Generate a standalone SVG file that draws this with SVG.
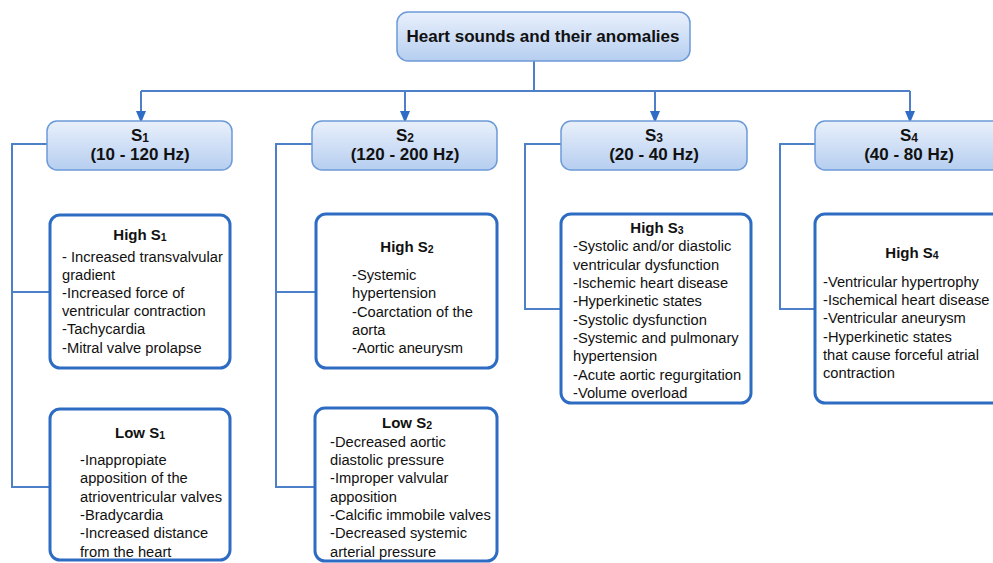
<svg xmlns="http://www.w3.org/2000/svg" width="993" height="563" viewBox="0 0 993 563">
<defs>
<linearGradient id="hdr" x1="0" y1="0" x2="0" y2="1">
<stop offset="0" stop-color="#e9f0fb"/>
<stop offset="1" stop-color="#b6cef0"/>
</linearGradient>
<marker id="arr" markerWidth="12" markerHeight="10" refX="11" refY="5" orient="auto" markerUnits="userSpaceOnUse">
<path d="M0,0 L12,5 L0,10 z" fill="#2f6cc6"/>
</marker>
</defs>
<style>
.hdr{fill:url(#hdr);stroke:#6c9ad8;stroke-width:1.5}
.box{fill:#fff;stroke:#2e6cc4;stroke-width:3}
.con{fill:none;stroke:#4d80c9;stroke-width:2}
.t{font-family:"Liberation Sans",Arial,sans-serif;fill:#111}
.ht{font-size:17px;font-weight:bold;text-anchor:middle}
.bt{font-size:15px;font-weight:bold;text-anchor:middle}
.tx{font-size:14.7px}
</style>
<rect width="993" height="563" fill="#fff"/>
<g id="connectors">
<path class="con" d="M534,61 V91 M141,91 H910"/>
<path class="con" d="M141,91 V122" marker-end="url(#arr)"/>
<path class="con" d="M405,91 V122" marker-end="url(#arr)"/>
<path class="con" d="M655,91 V122" marker-end="url(#arr)"/>
<path class="con" d="M910,91 V122" marker-end="url(#arr)"/>
<path class="con" d="M47,144 H12 V487 H50 M12,292 H50"/>
<path class="con" d="M312,144 H276 V487 H315 M276,292 H316"/>
<path class="con" d="M561,144 H525 V309 H561"/>
<path class="con" d="M815,144 H780 V309 H815"/>
</g>
<g id="root">
<rect class="hdr" x="397" y="12" width="293" height="49" rx="11"/>
<text class="t ht" x="543" y="42">Heart sounds and their anomalies</text>
</g>
<g id="s1">
<rect class="hdr" x="47" y="121" width="185" height="49" rx="10"/>
<text class="t ht" x="140" y="141">S<tspan font-size="12" dy="1">1</tspan></text>
<text class="t ht" x="140" y="160">(10 - 120 Hz)</text>
</g>
<g id="s2">
<rect class="hdr" x="312" y="121" width="185" height="49" rx="10"/>
<text class="t ht" x="405" y="141">S<tspan font-size="12" dy="1">2</tspan></text>
<text class="t ht" x="405" y="160">(120 - 200 Hz)</text>
</g>
<g id="s3">
<rect class="hdr" x="561" y="121" width="186" height="49" rx="10"/>
<text class="t ht" x="654" y="141">S<tspan font-size="12" dy="1">3</tspan></text>
<text class="t ht" x="654" y="160">(20 - 40 Hz)</text>
</g>
<g id="s4">
<rect class="hdr" x="815" y="121" width="190" height="49" rx="10"/>
<text class="t ht" x="909" y="141">S<tspan font-size="12" dy="1">4</tspan></text>
<text class="t ht" x="909" y="160">(40 - 80 Hz)</text>
</g>
<g id="high-s1">
<rect class="box" x="50" y="215" width="180" height="153" rx="10"/>
<text class="t bt" x="140" y="240">High S<tspan font-size="10.5" dy="1">1</tspan></text>
<text class="t tx" x="62" y="262">- Increased transvalvular</text>
<text class="t tx" x="62" y="280">gradient</text>
<text class="t tx" x="62" y="298">-Increased force of</text>
<text class="t tx" x="62" y="316">ventricular contraction</text>
<text class="t tx" x="62" y="334">-Tachycardia</text>
<text class="t tx" x="62" y="353">-Mitral valve prolapse</text>
</g>
<g id="low-s1">
<rect class="box" x="50" y="409" width="180" height="151" rx="10"/>
<text class="t bt" x="140" y="438">Low S<tspan font-size="10.5" dy="1">1</tspan></text>
<text class="t tx" x="80" y="465">-Inappropiate</text>
<text class="t tx" x="80" y="483">apposition of the</text>
<text class="t tx" x="80" y="502">atrioventricular valves</text>
<text class="t tx" x="80" y="520">-Bradycardia</text>
<text class="t tx" x="80" y="538">-Increased distance</text>
<text class="t tx" x="80" y="557">from the heart</text>
</g>
<g id="high-s2">
<rect class="box" x="316" y="214" width="181" height="154" rx="10"/>
<text class="t bt" x="407" y="252">High S<tspan font-size="10.5" dy="1">2</tspan></text>
<text class="t tx" x="352" y="280">-Systemic</text>
<text class="t tx" x="352" y="298">hypertension</text>
<text class="t tx" x="352" y="317">-Coarctation of the</text>
<text class="t tx" x="352" y="335">aorta</text>
<text class="t tx" x="352" y="353">-Aortic aneurysm</text>
</g>
<g id="low-s2">
<rect class="box" x="315" y="408" width="182" height="153" rx="10"/>
<text class="t bt" x="407" y="428">Low S<tspan font-size="10.5" dy="1">2</tspan></text>
<text class="t tx" x="330" y="447">-Decreased aortic</text>
<text class="t tx" x="330" y="465">diastolic pressure</text>
<text class="t tx" x="330" y="483">-Improper valvular</text>
<text class="t tx" x="330" y="502">apposition</text>
<text class="t tx" x="330" y="520">-Calcific immobile valves</text>
<text class="t tx" x="330" y="538">-Decreased systemic</text>
<text class="t tx" x="330" y="557">arterial pressure</text>
</g>
<g id="high-s3">
<rect class="box" x="561" y="214" width="190" height="189" rx="10"/>
<text class="t bt" x="657" y="233">High S<tspan font-size="10.5" dy="1">3</tspan></text>
<text class="t tx" x="573" y="251">-Systolic and/or diastolic</text>
<text class="t tx" x="573" y="270">ventricular dysfunction</text>
<text class="t tx" x="573" y="288">-Ischemic heart disease</text>
<text class="t tx" x="573" y="306">-Hyperkinetic states</text>
<text class="t tx" x="573" y="325">-Systolic dysfunction</text>
<text class="t tx" x="573" y="343">-Systemic and pulmonary</text>
<text class="t tx" x="573" y="361">hypertension</text>
<text class="t tx" x="573" y="380">-Acute aortic regurgitation</text>
<text class="t tx" x="573" y="398">-Volume overload</text>
</g>
<g id="high-s4">
<rect class="box" x="815" y="214" width="200" height="189" rx="10"/>
<text class="t bt" x="912" y="258">High S<tspan font-size="10.5" dy="1">4</tspan></text>
<text class="t tx" x="823" y="287">-Ventricular hypertrophy</text>
<text class="t tx" x="823" y="305">-Ischemical heart disease</text>
<text class="t tx" x="823" y="323">-Ventricular aneurysm</text>
<text class="t tx" x="823" y="342">-Hyperkinetic states</text>
<text class="t tx" x="823" y="360">that cause forceful atrial</text>
<text class="t tx" x="823" y="378">contraction</text>
</g>
</svg>
